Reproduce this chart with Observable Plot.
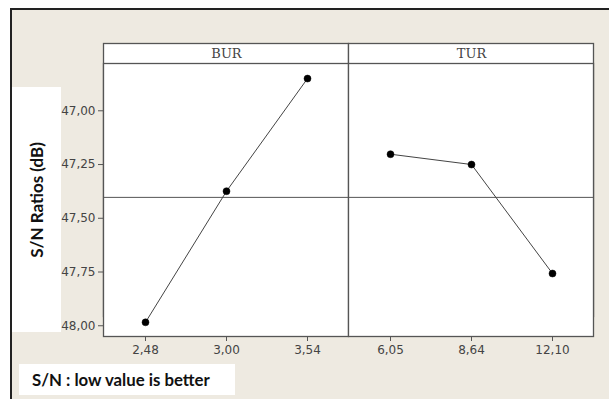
<!DOCTYPE html>
<html>
<head>
<meta charset="utf-8">
<script src="https://cdn.jsdelivr.net/npm/d3@7"></script>
<script src="https://cdn.jsdelivr.net/npm/@observablehq/plot@0.6"></script>
<style>
html, body { margin: 0; padding: 0; background: #fff; width: 609px; height: 399px; overflow: hidden; }
#wrap { position: relative; width: 609px; height: 399px; }
#outer { position: absolute; left: 10px; top: 8px; width: 620px; height: 420px; background: #EEEAE1; border-left: 2px solid #222; border-top: 2px solid #222; }
#ybox { position: absolute; left: 12px; top: 87px; width: 49px; height: 245px; background: #fff; }
#chart { position: absolute; left: 0; top: 0; }
#caption { position: absolute; left: 19px; top: 364px; width: 216px; height: 31px; background: #fff; font: bold 16.8px Lato, sans-serif; line-height: 31px; padding-left: 13px; box-sizing: border-box; color: #111; white-space: nowrap; }
#chart g[aria-label="y-axis label"] text { font-family: Lato, sans-serif; font-weight: bold; font-size: 17px; fill: #111; }
</style>
</head>
<body>
<div id="wrap">
  <div id="outer"></div>
  <div id="ybox"></div>
  <div id="chart"></div>
  <div id="caption"></div>
</div>
<script>
// ---- data ----
const factors = ["BUR", "TUR"];
const levelsBUR = ["2,48", "3,00", "3,54"];
const levelsTUR = ["6,05", "8,64", "12,10"];
const snBUR = [47.984, 47.374, 46.850];
const snTUR = [47.202, 47.250, 47.757];
const yTicks = [47.00, 47.25, 47.50, 47.75, 48.00];
const yLabel = "S/N Ratios (dB)";
const note = "S/N : low value is better";

// table for Plot
const levelSets = [levelsBUR, levelsTUR];
const snSets = [snBUR, snTUR];
const rows = factors.flatMap((f, k) =>
  levelSets[k].map((lv, i) => ({factor: f, idx: i, level: lv, sn: snSets[k][i]}))
);
const grandMean = d3.mean(rows, d => d.sn);
const fmt = d => d.toFixed(2).replace(".", ",");
const tickFont = {fontFamily: "DejaVu Sans", fontSize: 12};

const chart = Plot.plot({
  width: 609,
  height: 399,
  marginTop: 63,
  marginBottom: 63,
  marginLeft: 103,
  marginRight: 16,
  style: {background: "transparent", fontFamily: "'DejaVu Sans'", fontSize: "12px", color: "#444"},
  facet: {data: rows, x: "factor"},
  fx: {padding: 0, axis: null, domain: factors},
  x: {type: "point", domain: [0, 1, 2], padding: 0.5},
  y: {domain: [46.78, 48.05], reverse: true},
  marks: [
    Plot.frame({dy: -20, fill: "white", stroke: "#555", strokeWidth: 1.3}),
    Plot.frame({fill: "white", stroke: "#555", strokeWidth: 1.3}),
    Plot.text(rows, {filter: d => d.idx === 1, x: "idx", text: "factor", frameAnchor: "top", dy: -10, lineAnchor: "middle", fontFamily: "DejaVu Serif", fontSize: 13, fill: "#444"}),
    Plot.ruleY([grandMean], {stroke: "#555", strokeWidth: 1}),
    Plot.line(rows, {x: "idx", y: "sn", stroke: "#444", strokeWidth: 1}),
    Plot.dot(rows, {x: "idx", y: "sn", r: 3.5, fill: "black", stroke: "black", strokeWidth: 0.5}),
    Plot.axisY(yTicks, {anchor: "left", tickFormat: fmt, tickSize: 5, tickPadding: 3, stroke: "#555", fill: "#444", ...tickFont,
      label: yLabel, labelAnchor: "center", labelArrow: false, labelOffset: 73}),
    Plot.axisX([0, 1, 2], {anchor: "bottom", tickFormat: () => "", tickSize: 5, stroke: "#555", label: null}),
    Plot.text(rows, {x: "idx", text: "level", frameAnchor: "bottom", dy: 14, lineAnchor: "middle", fill: "#444", ...tickFont})
  ]
});
document.getElementById("chart").appendChild(chart);
document.getElementById("caption").textContent = note;
</script>
</body>
</html>
